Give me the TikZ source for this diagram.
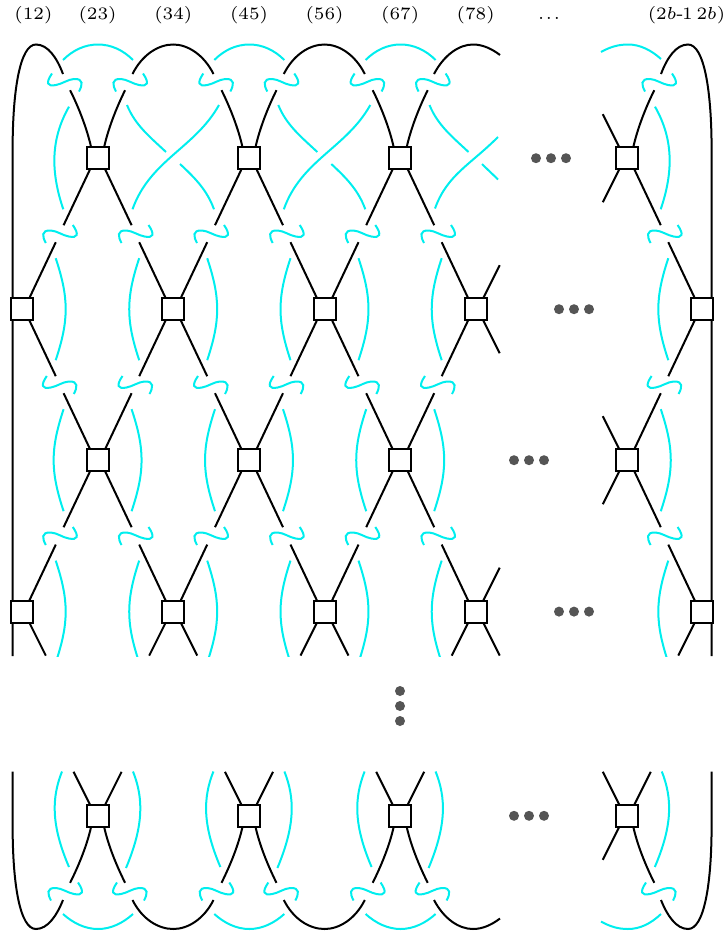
\documentclass[tikz,border=0pt]{standalone}
\usetikzlibrary{calc}
\definecolor{tw}{HTML}{00EEEE}
\definecolor{dotg}{HTML}{555555}
\tikzset{
  strand/.style={black,line width=2pt},
  twist/.style={tw,line width=2pt},
  kbox/.style={draw=black,fill=white,line width=2pt,minimum size=22pt,inner sep=0pt,outer sep=0pt,shape=rectangle},
  bigdot/.style={circle,fill=dotg,minimum size=10pt,inner sep=0pt,outer sep=0pt},
  toplabel/.style={inner sep=0pt,outer sep=0pt}
}
\newcommand\lbl[1]{\scalebox{2.9}{\fontsize{6}{7}\selectfont\vphantom{(}#1}}
% a box and the free ends of the strands that leave it
\newcommand\kb[3]{%
  \node[kbox] (#1) at (#2,#3) {};
  \coordinate (#1-ul) at (#2-34,#3-67);
  \coordinate (#1-ur) at (#2+34,#3-67);
  \coordinate (#1-dl) at (#2-34,#3+67);
  \coordinate (#1-dr) at (#2+34,#3+67);
  \coordinate (#1-sul) at (#2-24,#3-44);
  \coordinate (#1-sur) at (#2+24,#3-44);
  \coordinate (#1-sdl) at (#2-24,#3+44);
  \coordinate (#1-sdr) at (#2+24,#3+44);
  \coordinate (#1-cul) at (#2-27.5,#3-68);
  \coordinate (#1-cur) at (#2+27.5,#3-68);
  \coordinate (#1-cdl) at (#2-27.5,#3+67);
  \coordinate (#1-cdr) at (#2+27.5,#3+67);
}
\newcommand\cnul[2]{\draw[strand] ([xshift=3.5pt]#1.north west) -- (#1-#2);}
\newcommand\cnur[2]{\draw[strand] ([xshift=-3.5pt]#1.north east) -- (#1-#2);}
\newcommand\cndl[2]{\draw[strand] ([xshift=3.5pt]#1.south west) -- (#1-#2);}
\newcommand\cndr[2]{\draw[strand] ([xshift=-3.5pt]#1.south east) -- (#1-#2);}
\newcommand\cvul[1]{\draw[strand] ([xshift=4.5pt]#1.north west) .. controls +(-4,-18) and ($(#1-cul)+(9,18)$) .. (#1-cul);}
\newcommand\cvur[1]{\draw[strand] ([xshift=-4.5pt]#1.north east) .. controls +(4,-18) and ($(#1-cur)+(-9,18)$) .. (#1-cur);}
\newcommand\cvdl[1]{\draw[strand] ([xshift=4.5pt]#1.south west) .. controls +(-4,18) and ($(#1-cdl)+(9,-18)$) .. (#1-cdl);}
\newcommand\cvdr[1]{\draw[strand] ([xshift=-4.5pt]#1.south east) .. controls +(4,18) and ($(#1-cdr)+(-9,-18)$) .. (#1-cdr);}
% the S-shaped clasp
\newcommand\claspB[2]{\draw[twist,shift={(#1,#2)}] (-14,9.5) .. controls (-17.5,3) and (-19,-3.5) .. (-9,-3) .. controls (-3,-2.7) and (3,2) .. (9,3) .. controls (18,4.8) and (19.5,1) .. (13,-8.5);}
\newcommand\claspA[2]{\draw[twist,shift={(#1,#2)},xscale=-1] (-14,9.5) .. controls (-17.5,3) and (-19,-3.5) .. (-9,-3) .. controls (-3,-2.7) and (3,2) .. (9,3) .. controls (18,4.8) and (19.5,1) .. (13,-8.5);}
% side curve: x of ends, bulge direction, centre y
\newcommand\sidec[3]{\draw[twist] (#1,#3-51) .. controls (#1+#2*13.3,#3-11) and (#1+#2*13.3,#3+11) .. (#1,#3+51);}
\begin{document}
\begin{tikzpicture}[x=1pt,y=-1pt]
\useasboundingbox (0,0) rectangle (724,935);
% long outer strands, passing behind the end boxes
\draw[strand] (12.6,656) -- (12.6,150) .. controls (12.6,90) and (20,44.5) .. (36,44.5) .. controls (48,44.5) and (57,58) .. (63,74);
\draw[strand] (711.6,656) -- (711.6,150) .. controls (711.6,90) and (704,44.5) .. (688,44.5) .. controls (676,44.5) and (667,58) .. (661,74);
\draw[strand] (12.6,771.5) -- (12.6,825) .. controls (12.6,885) and (20,929) .. (36,929) .. controls (48,929) and (57,915) .. (63,900);
\draw[strand] (711.6,771.5) -- (711.6,825) .. controls (711.6,885) and (704,929) .. (688,929) .. controls (676,929) and (667,915) .. (661,900);
% boxes
\kb{a1}{97.6}{158.2}\kb{a2}{249}{158.2}\kb{a3}{400.2}{158.2}\kb{a4}{626.8}{158.2}
\kb{b1}{21.8}{309.2}\kb{b2}{173.2}{309.2}\kb{b3}{324.5}{309.2}\kb{b4}{475.7}{309.2}\kb{b5}{702.3}{309.2}
\kb{c1}{97.6}{460.2}\kb{c2}{249}{460.2}\kb{c3}{400.2}{460.2}\kb{c4}{626.8}{460.2}
\kb{d1}{21.8}{611.6}\kb{d2}{173.2}{611.6}\kb{d3}{324.5}{611.6}\kb{d4}{475.7}{611.6}\kb{d5}{702.3}{611.6}
\kb{e1}{97.6}{815.8}\kb{e2}{249}{815.8}\kb{e3}{400.2}{815.8}\kb{e4}{626.8}{815.8}
% row a strands
\foreach \n in {a1,a2,a3}{\cvul{\n}\cvur{\n}\cndl{\n}{dl}\cndr{\n}{dr}}
\cnul{a4}{sul}\cndl{a4}{sdl}\cvur{a4}\cndr{a4}{dr}
% rows b, c
\foreach \n in {b1,d1}{\cnur{\n}{ur}}
\cndr{b1}{dr}
\foreach \n in {b2,b3}{\cnul{\n}{ul}\cnur{\n}{ur}\cndl{\n}{dl}\cndr{\n}{dr}}
\cnul{b4}{ul}\cndl{b4}{dl}\cnur{b4}{sur}\cndr{b4}{sdr}
\cnul{b5}{ul}\cndl{b5}{dl}
\foreach \n in {c1,c2,c3}{\cnul{\n}{ul}\cnur{\n}{ur}\cndl{\n}{dl}\cndr{\n}{dr}}
\cnul{c4}{sul}\cndl{c4}{sdl}\cnur{c4}{ur}\cndr{c4}{dr}
% row d
\foreach \n in {d2,d3}{\cnul{\n}{ul}\cnur{\n}{ur}\cndl{\n}{sdl}\cndr{\n}{sdr}}
\cndr{d1}{sdr}
\cnul{d4}{ul}\cnur{d4}{sur}\cndl{d4}{sdl}\cndr{d4}{sdr}
\cnul{d5}{ul}\cndl{d5}{sdl}
% row e
\foreach \n in {e1,e2,e3}{\cnul{\n}{sul}\cnur{\n}{sur}\cvdl{\n}\cvdr{\n}}
\cnul{e4}{sul}\cnur{e4}{sur}\cndl{e4}{sdl}\cvdr{e4}
% arcs
\foreach \s in {0,151.3}{
  \draw[strand,xshift=\s] (132.5,74) .. controls (142,55) and (158,44.5) .. (173.3,44.5) .. controls (188,44.5) and (204,55) .. (213.5,74);
  \draw[strand,xshift=\s] (132.5,900) .. controls (142,919) and (158,929) .. (173.3,929) .. controls (188,929) and (204,919) .. (213.5,900);
}
\foreach \s in {0,151.3,302.6}{
  \draw[twist,xshift=\s] (63,60) .. controls (73,50) and (85,44.5) .. (98,44.5) .. controls (111,44.5) and (123,50) .. (133,60);
  \draw[twist,xshift=\s] (63,914) .. controls (73,923) and (85,929) .. (98,929) .. controls (111,929) and (123,923) .. (133,914);
}
\draw[strand] (434,74) .. controls (444,55) and (459,44.5) .. (473,44.5) .. controls (483,44.5) and (492,49) .. (500,55);
\draw[strand] (434,900) .. controls (444,919) and (459,929) .. (473,929) .. controls (483,929) and (492,924.5) .. (500,918.5);
\draw[twist] (601,52) .. controls (610,47) and (618,44.5) .. (628,44.5) .. controls (640,44.5) and (651,50) .. (661,59);
\draw[twist] (601,921.5) .. controls (610,926.5) and (618,929) .. (628,929) .. controls (640,929) and (651,923.5) .. (661,914);
% clasps
\foreach \s in {0,151.3,302.6}{
  \claspA{65+\s}{82}\claspB{130+\s}{82}
  \claspB{65+\s}{891}\claspA{130+\s}{891}
}
\claspB{659}{82}\claspA{659}{891}
\foreach \x in {59.8,135.5,211,286.7,362.3,438,664.6}{
  \claspB{\x}{233.5}\claspA{\x}{384.5}\claspB{\x}{535.5}
}
% side curves, row a
\draw[twist] (69,106.7) .. controls (50,140) and (51,173) .. (63.3,209.3);
\draw[twist] (655,106.7) .. controls (674,140) and (673,173) .. (660.7,209.3);
\foreach \s in {0,151.3}{
  \draw[twist,xshift=\s] (219,105) .. controls (195,148) and (150,160) .. (132.5,209.3);
  \draw[twist,xshift=\s] (127,105) .. controls (135,125) and (150,137) .. (166,152);
  \draw[twist,xshift=\s] (180,164) .. controls (195,178) and (207,190) .. (214,209.3);
}
\draw[twist] (498,137) .. controls (470,165) and (447,175) .. (435,208.5);
\draw[twist] (429.5,105) .. controls (437.5,125) and (452.5,137) .. (468.5,152);
\draw[twist] (482,164) .. controls (488,170) and (493,174.5) .. (498,179.5);
% side curves, rows b, c
\foreach \x/\d in {55.7/1,139.2/-1,207.2/1,290.5/-1,358.5/1,441.7/-1,668.3/-1}{\sidec{\x}{\d}{309.2}}
\foreach \x/\d in {63.6/-1,131.6/1,215/-1,283/1,366.2/-1,434.2/1,660.8/1}{\sidec{\x}{\d}{460.2}}
% row d, cut off below
\begin{scope}
\clip (0,0) rectangle (724,656);
\foreach \x/\d in {55.7/1,139.2/-1,207.2/1,290.5/-1,358.5/1,441.7/-1,668.3/-1}{\sidec{\x}{\d}{611.6}}
\end{scope}
% row e, cut off above
\foreach \s in {0,151.4,302.6}{
  \draw[twist,xshift=\s] (62,771.5) .. controls (51.5,798) and (51,825) .. (69,867);
  \draw[twist,xshift=\s] (133,771.5) .. controls (143.5,798) and (144,825) .. (126,868);
}
\draw[twist] (661.8,771.5) .. controls (672.3,798) and (672.8,825) .. (654.8,867);
% dots
\foreach \i/\x/\y in {1/536/158.2,2/551/158.2,3/566/158.2,4/559/309.2,5/574/309.2,6/589/309.2,7/514/460.2,8/529/460.2,9/544/460.2,10/559/611.6,11/574/611.6,12/589/611.6,13/400/691,14/400/706,15/400/721,16/514/815.8,17/529/815.8,18/544/815.8}
  {\node[bigdot] (dot\i) at (\x,\y) {};}
% labels
\node[toplabel] (l1) at (33.5,15) {\lbl{(12)}};
\node[toplabel] (l2) at (97.5,15) {\lbl{(23)}};
\node[toplabel] (l3) at (173.3,15) {\lbl{(34)}};
\node[toplabel] (l4) at (249,15) {\lbl{(45)}};
\node[toplabel] (l5) at (324.5,15) {\lbl{(56)}};
\node[toplabel] (l6) at (400.2,15) {\lbl{(67)}};
\node[toplabel] (l7) at (475.7,15) {\lbl{(78)}};
\node[toplabel] (l8) at (549,15) {\lbl{.\kern0.6pt.\kern0.6pt.}};
\node[toplabel] (l9) at (686.5,15) {\lbl{(2$b$-\kern-0.5pt 1\kern1.3pt 2$b$)}};
\end{tikzpicture}
\end{document}
